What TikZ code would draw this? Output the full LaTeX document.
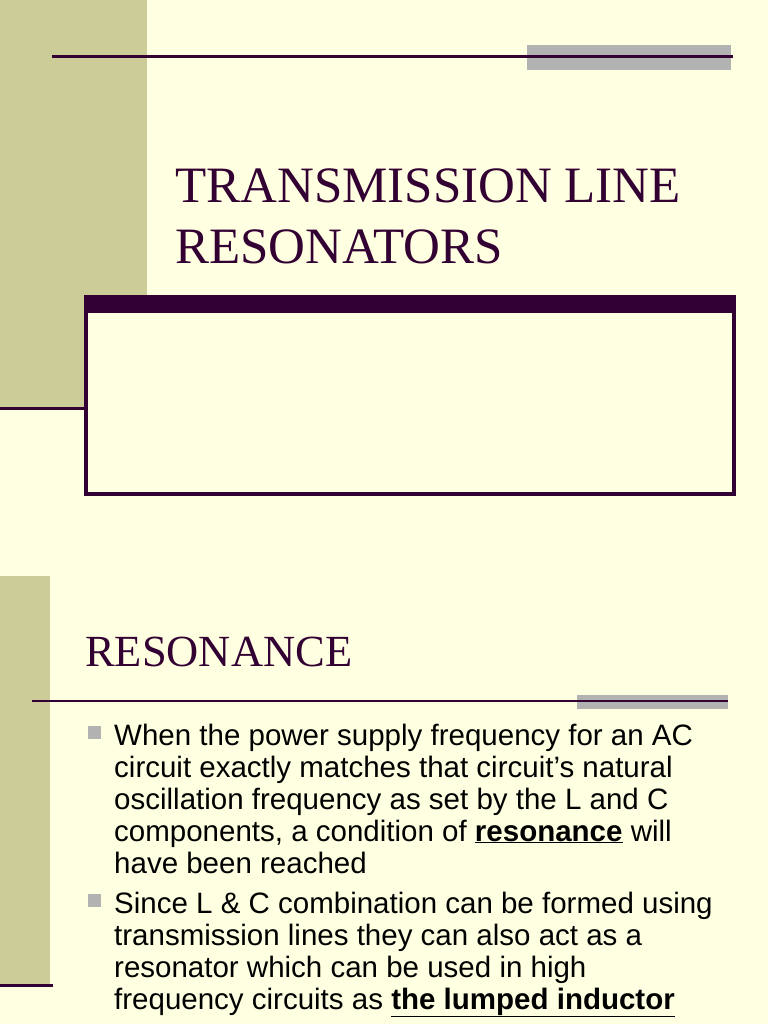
\documentclass[tikz,border=0pt]{standalone}
\usepackage{fontspec}
\setmainfont{Liberation Serif}
\newfontfamily\arial{Liberation Sans}
\definecolor{cream}{HTML}{FFFFE1}
\definecolor{olive}{HTML}{CCCC99}
\definecolor{plum}{HTML}{330033}
\definecolor{greybar}{HTML}{B2B2B2}
\begin{document}
\begin{tikzpicture}[x=1pt,y=-1pt,
  ttl/.style={anchor=base west,inner sep=0,font=\fontsize{44.5}{48}\selectfont,text=plum},
  body/.style={anchor=base west,inner sep=0,font=\arial\fontsize{29.5}{32}\selectfont},
  bul/.style={fill=greybar,draw=none}]
\fill[cream] (0,0) rectangle (768,1024);
\useasboundingbox (0,0) rectangle (768,1024);
% slide 1
\fill[olive] (0,0) rectangle (147,408);
\fill[plum] (0,406.5) rectangle (85,409.5);
\fill[greybar] (527,45) rectangle (731,70);
\fill[plum] (52,55.5) rectangle (733,58.5);
\node[ttl,font=\fontsize{51}{54}\selectfont] (t1) at (175,203) {TRANSMISSION LINE};
\node[ttl,font=\fontsize{51}{54}\selectfont] (t2) at (175,263) {RESONATORS};
\fill[plum] (84,295) rectangle (736,313);
\draw[plum,line width=4,fill=cream] (86,300) rectangle (734,494);
\fill[plum] (84,295) rectangle (736,313);
% slide 2
\fill[olive] (0,576) rectangle (50,985);
\fill[plum] (0,983.5) rectangle (53,986.5);
\node[ttl] (t3) at (85,666) {RESONANCE};
\fill[greybar] (577,695) rectangle (728,709);
\fill[plum] (32,700) rectangle (728,702);
\fill[bul] (88,726) rectangle (101,739);
\fill[bul] (88,894) rectangle (101,907);
\node[body] (a1) at (114,745) {When the power supply frequency for an AC};
\node[body] (a2) at (114,777) {circuit exactly matches that circuit’s natural};
\node[body] (a3) at (114,809) {oscillation frequency as set by the L and C};
\node[body] (a4) at (114,841) {components, a condition of \underline{\textbf{resonance}} will};
\node[body] (a5) at (114,873) {have been reached};
\node[body] (b1) at (114,913) {Since L \& C combination can be formed using};
\node[body] (b2) at (114,945) {transmission lines they can also act as a};
\node[body] (b3) at (114,977) {resonator which can be used in high};
\node[body] (b4) at (114,1009) {frequency circuits as \underline{\textbf{the lumped inductor}}};
\end{tikzpicture}
\end{document}
